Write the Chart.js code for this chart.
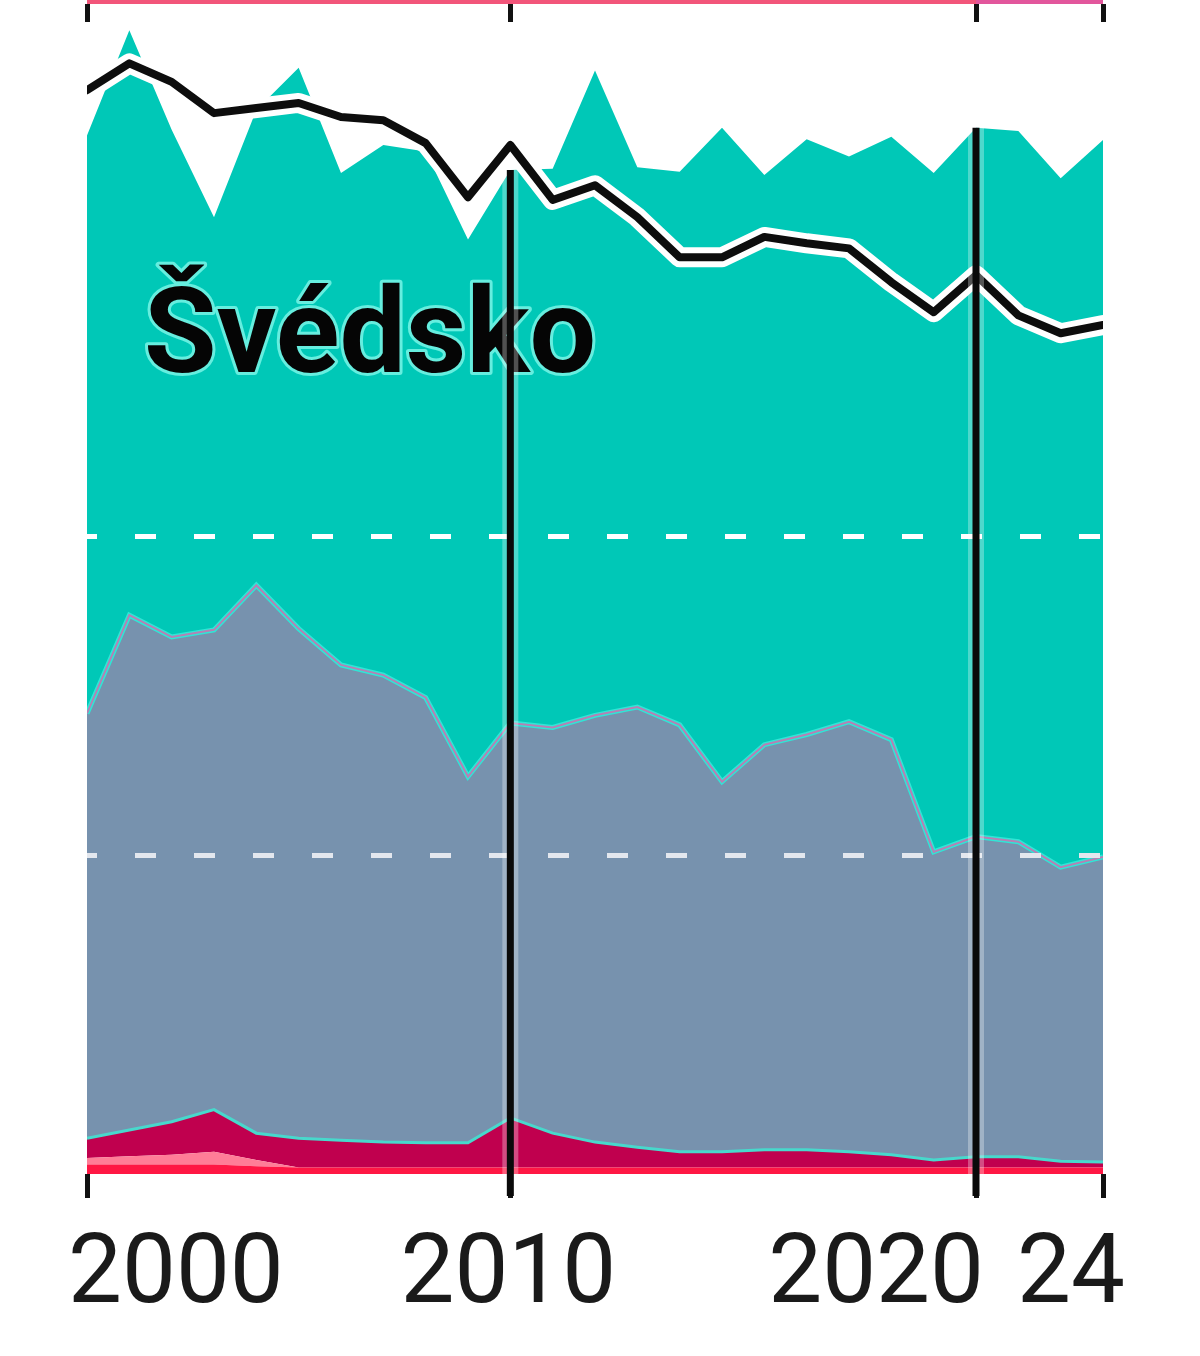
<!DOCTYPE html>
<html>
<head>
<meta charset="utf-8">
<script src="https://cdn.jsdelivr.net/npm/chart.js@4.4.0/dist/chart.umd.min.js"></script>
<style>
  html, body { margin: 0; padding: 0; background: #ffffff; overflow: hidden; }
  #page { position: relative; width: 1200px; height: 1356px; }
  #prevWrap { position: absolute; left: 0; top: -42px; width: 1200px; height: 64px; }
  #mainWrap { position: absolute; left: 0; top: 0; width: 1200px; height: 1356px; }
</style>
</head>
<body>
<div id="page">
  <div id="prevWrap"><canvas id="prev"></canvas></div>
  <div id="mainWrap"><canvas id="main"></canvas></div>
</div>
<script>
// ---- data (MWh per person, Sweden) ----
const years = [2000,2001,2002,2003,2004,2005,2006,2007,2008,2009,2010,2011,2012,2013,2014,2015,2016,2017,2018,2019,2020,2021,2022,2023,2024];
const redLayer = [0.15,0.15,0.15,0.15,0.12,0.10,0.10,0.10,0.10,0.10,0.10,0.10,0.10,0.10,0.10,0.10,0.10,0.10,0.10,0.10,0.10,0.10,0.10,0.10,0.10];
const pinkLayer = [0.10,0.13,0.15,0.20,0.10,0,0,0,0,0,0,0,0,0,0,0,0,0,0,0,0,0,0,0,0];
const crimsonLayer = [0.31,0.41,0.52,0.66,0.42,0.46,0.43,0.40,0.39,0.39,0.78,0.54,0.40,0.32,0.25,0.25,0.28,0.28,0.25,0.20,0.12,0.17,0.17,0.10,0.09];
const nuclear = [6.66,8.07,7.60,7.52,8.59,7.99,7.45,7.32,6.98,5.74,6.19,6.36,6.69,6.90,6.69,5.80,6.35,6.51,6.74,6.51,4.83,5.02,4.94,4.61,4.78];
const renewables = [9.06,9.17,7.95,6.47,7.45,8.79,7.71,8.31,8.56,8.42,8.67,8.76,10.11,8.46,8.67,10.25,8.93,9.33,8.86,9.45,10.64,11.11,11.14,10.80,11.24];
const consumption = [16.99,17.41,17.12,16.63,16.71,16.79,16.57,16.52,16.16,15.31,16.13,15.27,15.50,15.00,14.37,14.37,14.69,14.59,14.51,13.98,13.51,14.09,13.46,13.18,13.31];
const tickYears = [2000, 2010, 2021, 2024];
const tickLabels = ['2000', '2010', '2020', '24'];
const markerYears = [2010, 2021];
const gridValues = [5, 10];
const countryLabel = 'Švédsko';
// bottom layers of the panel above (only its lower edge is visible)
const prevLayerA = [1,1,1,1,1,1,1,1,1,1,1,1,1,1,1,1,1,1,1,1,1,1,null,null,null];
const prevLayerB = [null,null,null,null,null,null,null,null,null,null,null,null,null,null,null,null,null,null,null,null,null,1,1,1,1];

// derived
const nuclearTop = years.map((_, i) => redLayer[i] + pinkLayer[i] + crimsonLayer[i] + nuclear[i]);
const totals = years.map((_, i) => nuclearTop[i] + renewables[i]);

const NONE = 'rgba(0,0,0,0)';

function xTicks(scale) { scale.ticks = tickYears.map(v => ({ value: v })); }

const overlay = {
  id: 'overlay',
  afterDraw(chart) {
    const { ctx, chartArea, scales } = chart;
    const xs = scales.x, ys = scales.y;
    ctx.save();
    // country label
    ctx.font = 'bold 118px Roboto';
    ctx.textAlign = 'left';
    ctx.textBaseline = 'alphabetic';
    ctx.lineJoin = 'round';
    ctx.strokeStyle = 'rgba(120,245,230,0.85)';
    ctx.lineWidth = 6;
    ctx.strokeText(countryLabel, 144, 372);
    ctx.fillStyle = '#050505';
    ctx.fillText(countryLabel, 144, 372);

    // vertical marker lines
    markerYears.forEach(yr => {
      const i = years.indexOf(yr);
      const px = xs.getPixelForValue(yr);
      const top = ys.getPixelForValue(totals[i]);
      ctx.beginPath();
      ctx.strokeStyle = 'rgba(255,255,255,0.3)';
      ctx.lineWidth = 16;
      ctx.moveTo(px, top);
      ctx.lineTo(px, chartArea.bottom);
      ctx.stroke();
      ctx.beginPath();
      ctx.strokeStyle = '#0a0a0a';
      ctx.lineWidth = 7;
      ctx.moveTo(px, top);
      ctx.lineTo(px, chartArea.bottom + 22);
      ctx.stroke();
    });

    // x tick labels
    const aligns = ['left', 'center', 'right', 'right'];
    const offs = [-19, -2, 8, 22];
    ctx.font = '96px Roboto';
    ctx.fillStyle = '#1a1a1a';
    tickYears.forEach((v, k) => {
      ctx.textAlign = aligns[k];
      ctx.fillText(tickLabels[k], xs.getPixelForValue(v) + offs[k], 1302);
    });
    ctx.restore();
  }
};

new Chart(document.getElementById('main'), {
  type: 'line',
  data: {
    labels: years,
    datasets: [
      { label: 'red', data: redLayer, fill: 'origin', backgroundColor: '#ff1744', borderColor: NONE, borderWidth: 0 },
      { label: 'pink', data: pinkLayer, fill: '-1', backgroundColor: '#ff7d97', borderColor: NONE, borderWidth: 0 },
      { label: 'crimson', data: crimsonLayer, fill: '-1', backgroundColor: '#c0004e', borderColor: '#48d8cc', borderWidth: 3 },
      { label: 'nuclear', data: nuclear, fill: '-1', backgroundColor: '#7792ae', borderColor: '#2fe6d6', borderWidth: 5 },
      { label: 'renewables', data: renewables, fill: '-1', backgroundColor: '#00c8b7', borderColor: NONE, borderWidth: 0 },
      { label: 'nuclearEdge', data: nuclearTop, stack: 'edge', fill: false, borderColor: '#b581b4', borderWidth: 2, order: -1 },
      { label: 'halo', data: consumption, stack: 'halo', fill: false, borderColor: '#ffffff', borderWidth: 20, borderJoinStyle: 'round', borderCapStyle: 'round', order: -2 },
      { label: 'consumption', data: consumption, stack: 'cons', fill: false, borderColor: '#0d0d0d', borderWidth: 8, borderJoinStyle: 'round', borderCapStyle: 'round', order: -3 }
    ]
  },
  options: {
    responsive: true,
    maintainAspectRatio: false,
    animation: false,
    devicePixelRatio: 1,
    layout: { padding: { left: 87, right: 97, top: 13, bottom: 158 } },
    plugins: { legend: { display: false }, tooltip: { enabled: false } },
    elements: { point: { radius: 0, hoverRadius: 0 }, line: { tension: 0 } },
    scales: {
      x: {
        type: 'linear', min: 2000, max: 2024,
        afterBuildTicks: xTicks,
        ticks: { display: false },
        grid: { drawOnChartArea: false, drawTicks: true, tickLength: 24, tickWidth: 5, tickColor: '#111111' },
        border: { display: false }
      },
      y: {
        stacked: true, min: 0, max: 18.2,
        afterBuildTicks: s => { s.ticks = gridValues.map(v => ({ value: v })); },
        ticks: { display: false },
        grid: { z: 1, drawTicks: false, lineWidth: 5, color: c => (c.tick && c.tick.value === 5) ? '#e3e7ee' : '#ffffff' },
        border: { display: false, dash: [21, 38], dashOffset: 11 }
      }
    }
  },
  plugins: [overlay]
});

new Chart(document.getElementById('prev'), {
  type: 'line',
  data: {
    labels: years,
    datasets: [
      { data: prevLayerA, fill: 'origin', backgroundColor: '#f2557a', borderColor: '#e8254f', borderWidth: 2 },
      { data: prevLayerB, fill: 'origin', backgroundColor: '#e2569c', borderColor: '#d83a7f', borderWidth: 2 }
    ]
  },
  options: {
    responsive: true,
    maintainAspectRatio: false,
    animation: false,
    devicePixelRatio: 1,
    layout: { padding: { left: 87, right: 97, top: 0, bottom: 0 } },
    plugins: { legend: { display: false }, tooltip: { enabled: false } },
    elements: { point: { radius: 0 }, line: { tension: 0 } },
    scales: {
      x: {
        type: 'linear', min: 2000, max: 2024,
        afterBuildTicks: xTicks,
        ticks: { display: false },
        grid: { drawOnChartArea: false, drawTicks: true, tickLength: 18, tickWidth: 5, tickColor: '#111111' },
        border: { display: false }
      },
      y: { display: false, min: 0, max: 1 }
    }
  }
});
</script>
</body>
</html>
